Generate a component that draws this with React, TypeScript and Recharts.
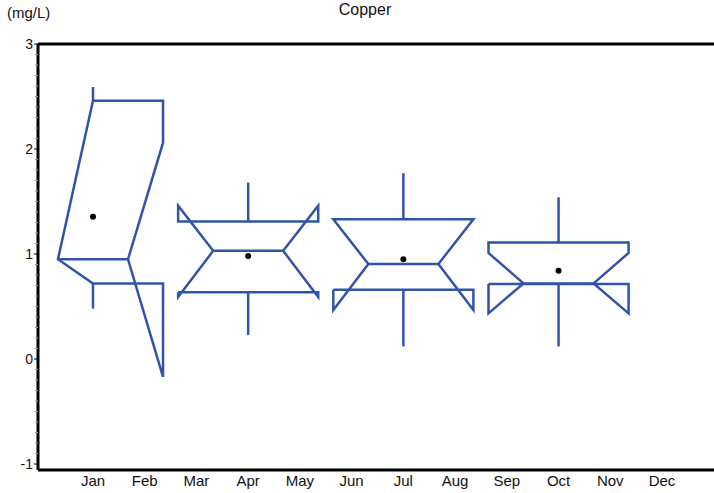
import { ComposedChart, Line, Scatter, XAxis, YAxis, ReferenceLine } from "recharts";

// months on the x axis (position 1..12)
const MONTHS = ["Jan", "Feb", "Mar", "Apr", "May", "Jun", "Jul", "Aug", "Sep", "Oct", "Nov", "Dec"];
const MONTH_TICKS = [1, 2, 3, 4, 5, 6, 7, 8, 9, 10, 11, 12];
const Y_MAJOR = [-1, 0, 1, 2, 3];

// quarterly notched boxes, values in mg/L
const boxCenters = [1, 4, 7, 10];
const whiskerLow = [0.48, 0.23, 0.12, 0.12];
const quartile1 = [0.72, 0.635, 0.66, 0.715];
const medians = [0.95, 1.03, 0.905, 0.72];
const quartile3 = [2.46, 1.31, 1.33, 1.11];
const whiskerHigh = [2.59, 1.68, 1.77, 1.54];
const notchLow = [-0.17, 0.59, 0.467, 0.435];
const notchHigh = [2.06, 1.46, 1.33, 1.01];
const means = [1.355, 0.98, 0.95, 0.84];

const BOX_HALF = 1.354;
const NOTCH_INSET = 0.5;
// plot runs a little past the right edge of the window, like the original
const X_DOMAIN: [number, number] = [-0.063, 13.121];
const Y_DOMAIN: [number, number] = [-1.057, 3];

const BLUE = "#3054A8";
const FONT = "'Liberation Sans', Arial, Helvetica, sans-serif";

// minor ticks every 0.1 between the labelled ones
const Y_TICKS: number[] = [];
for (let i = -10; i <= 30; i++) Y_TICKS.push(i / 10);

type Pt = { x: number; y: number };

function boxOutline(i: number): Pt[] {
  const c = boxCenters[i];
  const ni = BOX_HALF * NOTCH_INSET;
  const lo = quartile1[i];
  const hi = quartile3[i];
  const m = medians[i];
  const nlo = notchLow[i];
  const nhi = notchHigh[i];
  let left: Pt[];
  if (c - BOX_HALF < X_DOMAIN[0]) {
    // left edge falls outside the plot: the original draws it folded onto the centre
    left = [
      { x: c, y: lo },
      { x: c - ni, y: m },
      { x: c, y: hi },
    ];
  } else {
    left = [
      { x: c - BOX_HALF, y: lo },
      { x: c - BOX_HALF, y: nlo },
      { x: c - ni, y: m },
      { x: c - BOX_HALF, y: nhi },
      { x: c - BOX_HALF, y: hi },
    ];
  }
  const right: Pt[] = [
    { x: c + BOX_HALF, y: hi },
    { x: c + BOX_HALF, y: nhi },
    { x: c + ni, y: m },
    { x: c + BOX_HALF, y: nlo },
    { x: c + BOX_HALF, y: lo },
  ];
  const pts = [...left, ...right];
  return [...pts, pts[0]];
}

function YTick(props: any) {
  const { x, y, payload } = props;
  const v = payload.value as number;
  const major = Y_MAJOR.some((t) => Math.abs(t - v) < 1e-6);
  return (
    <g>
      <line
        x1={x - (major ? 4 : 3)}
        x2={x}
        y1={y}
        y2={y}
        stroke={major ? "#000" : "#999"}
        strokeWidth={1}
      />
      {major && (
        <text
          x={x - 5}
          y={y}
          dy={5}
          textAnchor="end"
          fontSize={14}
          fill="#111"
          fontFamily={FONT}
        >
          {Math.round(v)}
        </text>
      )}
    </g>
  );
}

export default function App() {
  const meanPts = boxCenters.map((c, i) => ({ x: c, y: means[i] }));

  return (
    <div
      style={{
        position: "absolute",
        left: 0,
        top: 0,
        width: 714,
        height: 493,
        overflow: "hidden",
        background: "#fff",
        fontFamily: FONT,
      }}
    >
      <div
        style={{
          position: "absolute",
          left: 7,
          top: 4,
          fontSize: 15,
          lineHeight: "17px",
          color: "#111",
        }}
      >
        (mg/L)
      </div>
      <div
        style={{
          position: "absolute",
          left: 265,
          width: 200,
          top: 1,
          textAlign: "center",
          fontSize: 16,
          lineHeight: "17px",
          color: "#111",
        }}
      >
        Copper
      </div>
      <ComposedChart
        width={720}
        height={493}
        margin={{ top: 44, right: 0, left: 0, bottom: 0 }}
      >
        <XAxis
          type="number"
          dataKey="x"
          domain={X_DOMAIN}
          ticks={MONTH_TICKS}
          interval={0}
          allowDataOverflow
          tickFormatter={(v: number) => MONTHS[v - 1]}
          tickLine={false}
          tickSize={0}
          tickMargin={5}
          height={23}
          axisLine={{ stroke: "#000", strokeWidth: 3 }}
          tick={{ fontSize: 15, fill: "#111", fontFamily: FONT }}
        />
        <YAxis
          type="number"
          dataKey="y"
          domain={Y_DOMAIN}
          ticks={Y_TICKS}
          interval={0}
          allowDataOverflow
          width={38}
          tickLine={false}
          tickSize={0}
          tickMargin={0}
          axisLine={{ stroke: "#000", strokeWidth: 3 }}
          tick={<YTick />}
        />
        <ReferenceLine y={3} stroke="#000" strokeWidth={3} />
        {boxCenters.map((c, i) => (
          <Line
            key={`box-${i}`}
            data={boxOutline(i)}
            dataKey="y"
            type="linear"
            stroke={BLUE}
            strokeWidth={2.5}
            dot={false}
            activeDot={false}
            isAnimationActive={false}
          />
        ))}
        {boxCenters.map((c, i) => (
          <Line
            key={`med-${i}`}
            data={[
              { x: c - BOX_HALF * NOTCH_INSET, y: medians[i] },
              { x: c + BOX_HALF * NOTCH_INSET, y: medians[i] },
            ]}
            dataKey="y"
            type="linear"
            stroke={BLUE}
            strokeWidth={2.5}
            dot={false}
            activeDot={false}
            isAnimationActive={false}
          />
        ))}
        {boxCenters.map((c, i) => (
          <Line
            key={`wh-${i}`}
            data={[
              { x: c, y: quartile3[i] },
              { x: c, y: whiskerHigh[i] },
            ]}
            dataKey="y"
            type="linear"
            stroke={BLUE}
            strokeWidth={2.5}
            dot={false}
            activeDot={false}
            isAnimationActive={false}
          />
        ))}
        {boxCenters.map((c, i) => (
          <Line
            key={`wl-${i}`}
            data={[
              { x: c, y: quartile1[i] },
              { x: c, y: whiskerLow[i] },
            ]}
            dataKey="y"
            type="linear"
            stroke={BLUE}
            strokeWidth={2.5}
            dot={false}
            activeDot={false}
            isAnimationActive={false}
          />
        ))}
        <Scatter
          data={meanPts}
          dataKey="y"
          isAnimationActive={false}
          shape={(p: any) => <circle cx={p.cx} cy={p.cy} r={3} fill="#000" />}
        />
      </ComposedChart>
    </div>
  );
}
